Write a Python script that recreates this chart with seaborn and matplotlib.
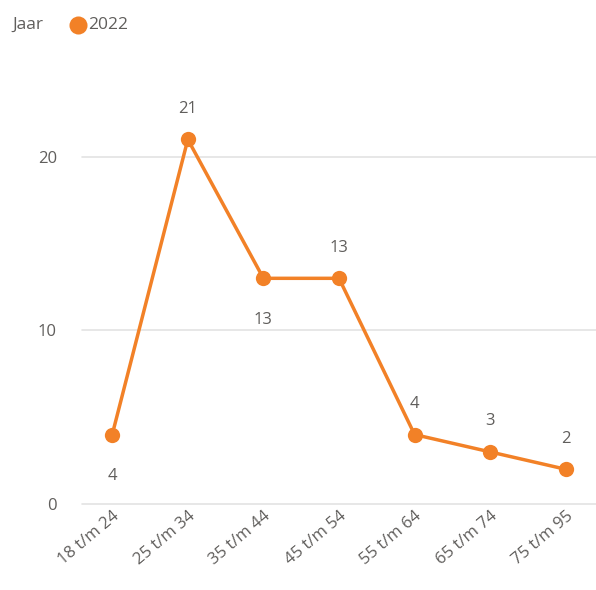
import matplotlib
matplotlib.use("Agg")
import matplotlib.pyplot as plt
import seaborn as sns
import pandas as pd

categories = ["18 t/m 24", "25 t/m 34", "35 t/m 44", "45 t/m 54", "55 t/m 64", "65 t/m 74", "75 t/m 95"]
values_2022 = [4, 21, 13, 13, 4, 3, 2]
label_below = [True, False, True, False, False, False, False]
yticks = [0, 10, 20]

sns.set_theme(style="white")
plt.rcParams['font.family'] = ['Open Sans', 'DejaVu Sans']

ORANGE = "#F28127"
GREY = "#605E5C"

df = pd.DataFrame({"Leeftijd": categories, "Aantal": values_2022, "Jaar": "2022"})

fig = plt.figure(figsize=(5.96, 5.90), dpi=100)
ax = fig.add_axes([82/596, 86/590, 1 - 82/596, 434/590])

sns.lineplot(data=df, x="Leeftijd", y="Aantal", ax=ax, color=ORANGE, linewidth=2.5,
             marker="o", markersize=11, markeredgewidth=0, sort=False, legend=False)

for i, (v, below) in enumerate(zip(values_2022, label_below)):
    ax.annotate(str(v), (i, v), xytext=(0, -30 if below else 22), textcoords="offset points",
                ha="center", va="center", fontsize=12, color=GREY)

ax.set_xlim(-0.4, len(categories) - 0.6)
ax.set_ylim(0, 25)
ax.set_yticks(yticks)
ax.set_yticklabels([str(t) for t in yticks])
ax.set_xticks(range(len(categories)))
ax.set_xticklabels(categories, rotation=40, ha="right", rotation_mode="anchor")
ax.tick_params(axis="both", colors=GREY, labelsize=12, length=0)
ax.tick_params(axis="y", pad=18)
ax.tick_params(axis="x", pad=3)
ax.set_xlabel("")
ax.set_ylabel("")
ax.grid(axis="y", color="#E3E3E3", linewidth=1.2)
ax.grid(axis="x", visible=False)
for gl in ax.get_ygridlines():
    gl.set_clip_on(False)
for s in ax.spines.values():
    s.set_visible(False)

# legend
fig.text(12/596, 1 - 25/590, "Jaar", fontsize=12.5, color=GREY, va="center", ha="left")
fig.lines.append(plt.Line2D([78/596], [1 - 25/590], marker="o", markersize=13, color=ORANGE,
                            markeredgewidth=0, transform=fig.transFigure))
fig.text(88/596, 1 - 25/590, "2022", fontsize=12.5, color=GREY, va="center", ha="left")

fig.savefig("out.png", dpi=100)
